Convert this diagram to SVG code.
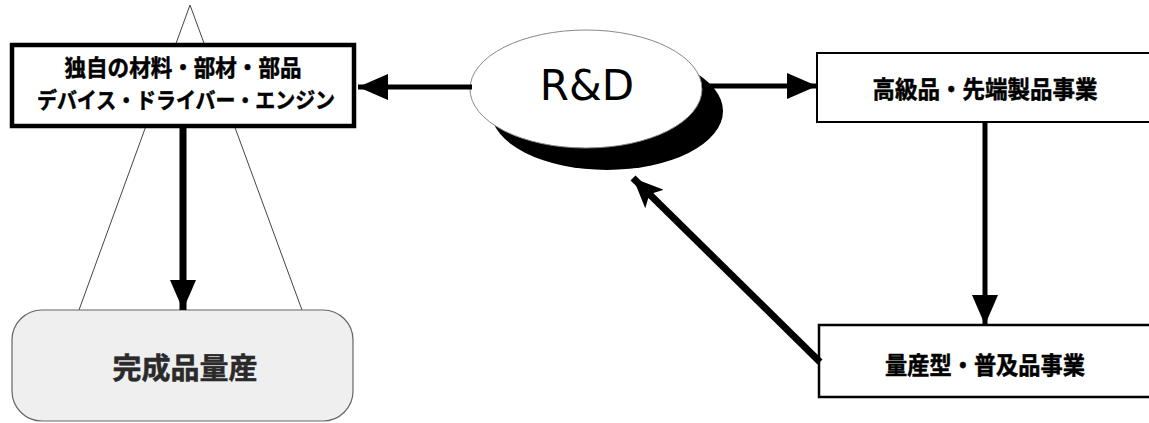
<svg xmlns="http://www.w3.org/2000/svg" width="1149" height="423" viewBox="0 0 1149 423">
<style>
.jp{font-family:"Noto Sans CJK JP","Noto Sans",sans-serif;font-weight:bold;fill:#000;stroke:#000;stroke-width:0.5;text-anchor:middle;dominant-baseline:central}
.conn{stroke:#000;fill:none}
</style>
<defs>
<marker id="ah" markerUnits="userSpaceOnUse" viewBox="0 0 30 26" refX="30" refY="13" markerWidth="30" markerHeight="26" orient="auto">
<polygon points="0,0 30,13 0,26" fill="#000"/>
</marker>
<marker id="ahs" markerUnits="userSpaceOnUse" viewBox="0 0 30 26" refX="30" refY="13" markerWidth="30" markerHeight="26" orient="auto">
<polygon points="0,0 30,13 0,26 7,13" fill="#000"/>
</marker>
</defs>
<rect width="1149" height="423" fill="#fff"/>
<g id="triangle">
<polyline points="79,310 190,5 302,310" fill="none" stroke="#444" stroke-width="1"/>
</g>
<g id="mass">
<rect x="12" y="310" width="341" height="111" rx="30" fill="#efefef" stroke="#666" stroke-width="1.2"/>
<text class="jp" x="185" y="366" font-size="29" style="fill:#2a2a2a;stroke:#2a2a2a">完成品量産</text>
</g>
<g id="rd">
<ellipse cx="607" cy="111" rx="116" ry="59" fill="#000"/>
<ellipse cx="586" cy="89" rx="116" ry="59" fill="#fff" stroke="#888" stroke-width="1"/>
<text x="587" y="85" font-family="'DejaVu Sans','Liberation Sans',sans-serif" font-size="42" text-anchor="middle" dominant-baseline="central">R&amp;D</text>
</g>
<g id="materials">
<rect x="12" y="45" width="342" height="81" fill="#fff" stroke="#000" stroke-width="4.5"/>
<text class="jp" x="183" y="66" font-size="23" textLength="237" lengthAdjust="spacingAndGlyphs">独自の材料・部材・部品</text>
<text class="jp" x="186" y="98" font-size="22" textLength="298" lengthAdjust="spacingAndGlyphs">デバイス・ドライバー・エンジン</text>
</g>
<g id="highend">
<rect x="817" y="53" width="335" height="69" fill="#fff" stroke="#000" stroke-width="2"/>
<text class="jp" x="985" y="87" font-size="24" textLength="225" lengthAdjust="spacingAndGlyphs">高級品・先端製品事業</text>
</g>
<g id="volume">
<rect x="819" y="325" width="333" height="72" fill="#fff" stroke="#000" stroke-width="2.5"/>
<text class="jp" x="985" y="363" font-size="24" textLength="200" lengthAdjust="spacingAndGlyphs">量産型・普及品事業</text>
</g>
<g id="connectors">
<line class="conn" x1="183" y1="126" x2="183" y2="310" stroke-width="7" marker-end="url(#ah)"/>
<line class="conn" x1="472" y1="87" x2="358" y2="87" stroke-width="5" marker-end="url(#ah)"/>
<line class="conn" x1="702" y1="86" x2="817" y2="86" stroke-width="5" marker-end="url(#ah)"/>
<line class="conn" x1="985" y1="122" x2="985" y2="325" stroke-width="5" marker-end="url(#ah)"/>
<line class="conn" x1="820" y1="362" x2="633" y2="178" stroke-width="7" marker-end="url(#ahs)"/>
</g>
</svg>
